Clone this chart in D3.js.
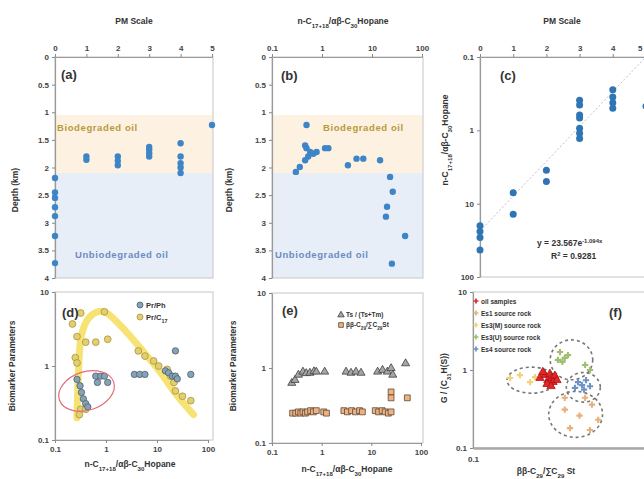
<!DOCTYPE html>
<html>
<head>
<meta charset="utf-8">
<script src="https://cdn.jsdelivr.net/npm/d3@7"></script>
<style>
body { margin: 0; background: #fff; }
text { font-family: "Liberation Sans", Arial, sans-serif; }
</style>
</head>
<body>
<script>
// ---- data ----
// (a) PM scale vs depth
var aPM    = [0, 0, 0, 0, 0, 0, 0, 1, 1, 2, 2, 2, 3, 3, 3, 3, 4, 4, 4, 4, 4, 5];
var aDepth = [2.19, 2.45, 2.55, 2.72, 2.88, 3.24, 3.73, 1.8, 1.86, 1.8, 1.88, 1.96, 1.63, 1.68, 1.74, 1.8, 1.56, 1.8, 1.92, 2.0, 2.1, 1.23];

// (b) n-alkane / hopane ratio vs depth
var bRatio = [0.49, 0.46, 0.49, 0.58, 0.67, 0.78, 1.15, 1.34, 0.53, 0.46, 0.36, 0.30, 3.3, 4.9, 6.7, 14.5, 23, 26, 20, 19, 46, 25];
var bDepth = [1.23, 1.6, 1.65, 1.72, 1.75, 1.72, 1.65, 1.65, 1.8, 1.87, 1.99, 2.08, 1.96, 1.84, 1.84, 1.87, 2.17, 2.44, 2.71, 2.89, 3.24, 3.74];

// (c) PM scale vs ratio, with exponential fit
var cPM    = [0, 0, 0, 0, 1, 1, 2, 2, 3, 3, 3, 3, 3, 3, 3, 4, 4, 4, 4, 5];
var cRatio = [20, 24, 29, 43, 7.1, 13.9, 3.5, 5.0, 0.39, 0.45, 0.62, 0.68, 0.94, 1.1, 1.29, 0.28, 0.35, 0.42, 0.5, 0.47];
var cFit = { a: 23.567, b: 1.094, r2: 0.9281 };

// (d) biomarker parameters
var dPrPhX  = [0.27, 0.31, 0.33, 0.36, 0.4, 0.44, 0.63, 0.79, 0.68, 0.93, 1.08, 3.6, 4.6, 5.8, 14.6, 16.9, 20, 23, 25, 23, 46];
var dPrPhY  = [0.66, 0.54, 0.44, 0.36, 0.31, 0.28, 0.73, 0.73, 0.6, 0.73, 0.6, 0.77, 0.77, 0.77, 0.86, 0.81, 0.73, 0.73, 0.67, 1.6, 0.77];
var dPrC17X = [0.22, 0.32, 0.93, 0.27, 0.4, 0.63, 1.08, 0.25, 0.27, 4.3, 5.8, 8.6, 10.8, 15.8, 18.5, 21.5, 23, 31.6, 46, 0.32, 0.4, 0.3];
var dPrC17Y = [3.7, 5.2, 5.4, 2.5, 2.1, 2.1, 2.3, 1.3, 1.1, 1.6, 1.36, 1.17, 1.0, 0.9, 0.73, 0.6, 0.46, 0.39, 0.34, 0.26, 0.26, 0.22];
var dTrendX = [0.27, 0.29, 0.33, 0.45, 0.76, 1.03, 2.5, 5.4, 11.4, 24, 52];
var dTrendY = [0.2, 0.9, 2.6, 4.4, 5.5, 5.2, 2.9, 1.56, 0.84, 0.41, 0.22];

// (e) biomarker parameters
var eTriX = [0.25, 0.29, 0.34, 0.42, 0.49, 0.58, 0.7, 0.78, 1.15, 3.1, 3.9, 4.9, 6.2, 13.4, 16.8, 21, 25, 27, 49];
var eTriY = [0.63, 0.69, 0.81, 0.89, 0.85, 0.86, 0.9, 0.89, 0.89, 0.89, 0.86, 0.89, 0.86, 0.89, 0.94, 0.89, 0.99, 0.81, 1.15];
var eSqX  = [0.26, 0.3, 0.34, 0.38, 0.42, 0.47, 0.52, 0.6, 0.68, 0.78, 1.1, 1.25, 2.8, 3.3, 4.0, 4.8, 5.8, 6.6, 12, 14, 16.5, 19, 22, 25, 25, 25, 53];
var eSqY  = [0.25, 0.25, 0.26, 0.25, 0.26, 0.25, 0.26, 0.27, 0.26, 0.27, 0.26, 0.25, 0.27, 0.26, 0.27, 0.26, 0.27, 0.26, 0.27, 0.26, 0.27, 0.26, 0.25, 0.26, 0.48, 0.4, 0.4];

// (f) oil-source correlation
var fGroups = ["oil samples", "Es1 source rock", "Es3(M) source rock", "Es3(U) source rock", "Es4 source rock"];
var fOilX = [0.239, 0.255, 0.265, 0.272, 0.28, 0.29, 0.283, 0.262, 0.298, 0.248, 0.276];
var fOilY = [0.79, 0.86, 0.74, 0.89, 0.79, 0.84, 0.70, 0.66, 0.74, 0.94, 0.62];
var fEs1X = [0.33, 0.43, 0.47, 0.51, 0.353, 0.33, 0.458, 0.40];
var fEs1Y = [0.44, 0.44, 0.36, 0.23, 0.18, 0.31, 0.17, 0.26];
var fEs3MX = [0.162, 0.184, 0.21, 0.224];
var fEs3MY = [0.79, 0.86, 0.70, 0.81];
var fEs3UX = [0.31, 0.33, 0.32, 0.344, 0.302, 0.43, 0.458];
var fEs3UY = [1.70, 1.43, 1.27, 1.55, 1.35, 1.16, 1.0];
var fEs4X = [0.392, 0.413, 0.435, 0.458, 0.377, 0.424];
var fEs4Y = [0.70, 0.64, 0.74, 0.62, 0.59, 0.56];
// dashed group envelopes: centre (x, y) and half-size in decades
var fEnvX  = [0.214, 0.36, 0.42, 0.38];
var fEnvY  = [0.74, 1.35, 0.60, 0.27];
var fEnvDx = [0.138, 0.12, 0.096, 0.152];
var fEnvDy = [0.167, 0.256, 0.19, 0.295];

var pmTicks = [0, 1, 2, 3, 4, 5];
var depthTicks = [0, 0.5, 1, 1.5, 2, 2.5, 3, 3.5, 4];
var logTicks = [0.1, 1, 10, 100];
var bioBand = [1.05, 2.1];
var unbioBand = [2.1, 4];

// ---- drawing ----
var width = 644, height = 479;
var svg = d3.select("body").append("svg")
	.attr("width", width)
	.attr("height", height);

var ratioLabel = [["n-C"], ["17+18", "sub"], ["/αβ-C"], ["30", "sub"], ["Hopane"]];
var numFmt = function(d) { return String(d); };

function rich(textSel, parts) {
	parts.forEach(function(p) {
		var t = textSel.append("tspan").text(p[0]);
		if (p[1] === "sub") t.attr("baseline-shift", "sub").style("font-size", "72%");
		if (p[1] === "sup") t.attr("baseline-shift", "super").style("font-size", "70%");
	});
	return textSel;
}

function styleAxis(g) {
	g.select(".domain").attr("stroke", "#9a9a9a").attr("stroke-width", 1.2);
	g.selectAll(".tick line").attr("stroke", "#888");
	g.selectAll(".tick text")
		.attr("fill", "#444")
		.style("font-size", "8px")
		.style("font-weight", "bold");
}

function box(x0, y0, x1, y1) {
	svg.append("rect")
		.attr("x", x0).attr("y", y0)
		.attr("width", x1 - x0).attr("height", y1 - y0)
		.attr("fill", "none")
		.attr("stroke", "#cfcfcf")
		.attr("stroke-width", 1.2);
}

function panelLabel(x, y, s) {
	svg.append("text").attr("x", x).attr("y", y)
		.attr("fill", "#333")
		.style("font-size", "13px").style("font-weight", "bold")
		.text(s);
}

function axisTitle(x, y, rotate) {
	var t = svg.append("text")
		.attr("text-anchor", "middle")
		.attr("fill", "#333")
		.style("font-size", "8.5px").style("font-weight", "bold");
	if (rotate) t.attr("transform", "translate(" + x + "," + y + ") rotate(-90)");
	else t.attr("x", x).attr("y", y);
	return t;
}

function bands(xs, ys, x0, x1) {
	svg.append("rect").attr("x", x0).attr("width", x1 - x0)
		.attr("y", ys(bioBand[0])).attr("height", ys(bioBand[1]) - ys(bioBand[0]))
		.attr("fill", "#fdf1e2");
	svg.append("rect").attr("x", x0).attr("width", x1 - x0)
		.attr("y", ys(unbioBand[0])).attr("height", ys(unbioBand[1]) - ys(unbioBand[0]))
		.attr("fill", "#e7eef8");
}

function bandText(x, y, s, color) {
	svg.append("text").attr("x", x).attr("y", y)
		.attr("fill", color)
		.style("font-size", "9.5px").style("font-weight", "bold")
		.style("letter-spacing", "0.6px")
		.text(s);
}

function dots(xs, ys, X, Y, r, fill, stroke) {
	svg.append("g").selectAll("circle")
		.data(X)
		.enter()
		.append("circle")
		.attr("cx", function(d) { return xs(d); })
		.attr("cy", function(d, i) { return ys(Y[i]); })
		.attr("r", r)
		.attr("fill", fill)
		.attr("stroke", stroke || "none")
		.attr("stroke-width", 0.8);
}

function symbols(xs, ys, X, Y, type, size, fill, stroke) {
	svg.append("g").selectAll("path")
		.data(X)
		.enter()
		.append("path")
		.attr("transform", function(d, i) { return "translate(" + xs(d) + "," + ys(Y[i]) + ")"; })
		.attr("d", d3.symbol().type(type).size(size))
		.attr("fill", fill)
		.attr("stroke", stroke)
		.attr("stroke-width", 0.8);
}

// ---------- (a) ----------
var xA = d3.scaleLinear().domain([0, 5]).range([55, 212]);
var yA = d3.scaleLinear().domain([0, 4]).range([57, 278]);
bands(xA, yA, 55, 213);
box(55, 57, 213, 278);
bandText(57, 131, "Biodegraded oil", "#b89a3c");
bandText(75, 258, "Unbiodegraded oil", "#6a8cc0");
svg.append("g").attr("transform", "translate(0,57)")
	.call(d3.axisTop(xA).tickValues(pmTicks).tickFormat(numFmt).tickSizeInner(3).tickSizeOuter(0))
	.call(styleAxis);
svg.append("g").attr("transform", "translate(55,0)")
	.call(d3.axisLeft(yA).tickValues(depthTicks).tickFormat(numFmt).tickSizeInner(3).tickSizeOuter(0))
	.call(styleAxis);
dots(xA, yA, aPM, aDepth, 3.2, "#3d85c6");
panelLabel(61, 79, "(a)");
axisTitle(134, 24).text("PM Scale");
axisTitle(18, 190, true).text("Depth (km)");

// ---------- (b) ----------
var xB = d3.scaleLog().domain([0.1, 100]).range([272, 422]);
var yB = d3.scaleLinear().domain([0, 4]).range([57, 278]);
bands(xB, yB, 272, 423);
box(272, 57, 423, 278);
bandText(323, 131, "Biodegraded oil", "#b89a3c");
bandText(275, 258, "Unbiodegraded oil", "#6a8cc0");
svg.append("g").attr("transform", "translate(0,57)")
	.call(d3.axisTop(xB).tickValues(logTicks).tickFormat(numFmt).tickSizeInner(3).tickSizeOuter(0))
	.call(styleAxis);
svg.append("g").attr("transform", "translate(272,0)")
	.call(d3.axisLeft(yB).tickValues(depthTicks).tickFormat(numFmt).tickSizeInner(3).tickSizeOuter(0))
	.call(styleAxis);
dots(xB, yB, bRatio, bDepth, 3.2, "#3d85c6");
panelLabel(281, 80, "(b)");
rich(axisTitle(343, 24), ratioLabel);
axisTitle(232, 190, true).text("Depth (km)");

// ---------- (c) ----------
var xC = d3.scaleLinear().domain([0, 5]).range([480, 646]);
var yC = d3.scaleLog().domain([0.1, 100]).range([57, 277]);
box(480, 57, 652, 277);
var fitLine = d3.line()
	.x(function(d) { return xC(d); })
	.y(function(d) { return yC(cFit.a * Math.exp(-cFit.b * d)); });
svg.append("path")
	.attr("d", fitLine(d3.range(0, 5.05, 0.05)))
	.attr("fill", "none")
	.attr("stroke", "#c9b8c8")
	.attr("stroke-width", 1)
	.attr("stroke-dasharray", "2,2");
var topC = svg.append("g").attr("transform", "translate(0,57)")
	.call(d3.axisTop(xC).tickValues(pmTicks).tickFormat(numFmt).tickSizeInner(3).tickSizeOuter(0))
	.call(styleAxis);
// last label sits on the window edge: keep it inside
topC.selectAll(".tick text").filter(function(d) { return d === 5; })
	.attr("text-anchor", "end").attr("dx", "-4");
svg.append("g").attr("transform", "translate(480,0)")
	.call(d3.axisLeft(yC).tickValues(logTicks).tickFormat(numFmt).tickSizeInner(3).tickSizeOuter(0))
	.call(styleAxis);
dots(xC, yC, cPM, cRatio, 3.5, "#2f75b5");
panelLabel(500, 80, "(c)");
axisTitle(562, 24).text("PM Scale");
rich(axisTitle(448, 140, true), ratioLabel);
var eq = svg.append("text").attr("x", 537).attr("y", 246)
	.attr("fill", "#333").style("font-size", "8.5px").style("font-weight", "bold");
rich(eq, [["y = " + cFit.a + "e"], ["-" + cFit.b + "x", "sup"]]);
var r2 = svg.append("text").attr("x", 551).attr("y", 259)
	.attr("fill", "#333").style("font-size", "8.5px").style("font-weight", "bold");
rich(r2, [["R"], ["2", "sup"], [" = " + cFit.r2]]);

// ---------- (d) ----------
var xD = d3.scaleLog().domain([0.1, 100]).range([55, 208]);
var yD = d3.scaleLog().domain([0.1, 10]).range([440, 292]);
box(55, 292, 213, 440);
var trend = d3.line()
	.x(function(d) { return xD(d); })
	.y(function(d, i) { return yD(dTrendY[i]); })
	.curve(d3.curveCatmullRom);
svg.append("path")
	.attr("d", trend(dTrendX))
	.attr("fill", "none")
	.attr("stroke", "#f6de5c")
	.attr("stroke-opacity", 0.85)
	.attr("stroke-width", 7)
	.attr("stroke-linecap", "round");
svg.append("g").attr("transform", "translate(0,440)")
	.call(d3.axisBottom(xD).tickValues(logTicks).tickFormat(numFmt).tickSizeInner(3).tickSizeOuter(0))
	.call(styleAxis);
svg.append("g").attr("transform", "translate(55,0)")
	.call(d3.axisLeft(yD).tickValues([0.1, 1, 10]).tickFormat(numFmt).tickSizeInner(3).tickSizeOuter(0))
	.call(styleAxis);
dots(xD, yD, dPrC17X, dPrC17Y, 3.4, "#e3cf6c", "#a8934a");
dots(xD, yD, dPrPhX, dPrPhY, 3.2, "#86a3b6", "#4d5d6b");
var ex = xD(0.415), ey = yD(0.46);
svg.append("ellipse")
	.attr("cx", ex).attr("cy", ey)
	.attr("rx", xD(0.415 * Math.pow(10, 0.56)) - ex)
	.attr("ry", yD(0.46) - yD(0.46 * Math.pow(10, 0.26)))
	.attr("transform", "rotate(-18," + ex + "," + ey + ")")
	.attr("fill", "none")
	.attr("stroke", "#e46c7a")
	.attr("stroke-width", 1.2);
// legend
dots(d3.scaleIdentity(), d3.scaleIdentity(), [140], [305], 3, "#86a3b6", "#4d5d6b");
dots(d3.scaleIdentity(), d3.scaleIdentity(), [140], [317], 3, "#e3cf6c", "#a8934a");
svg.append("text").attr("x", 146).attr("y", 308).attr("fill", "#333")
	.style("font-size", "7.5px").style("font-weight", "bold").text("Pr/Ph");
rich(svg.append("text").attr("x", 146).attr("y", 320).attr("fill", "#333")
	.style("font-size", "7.5px").style("font-weight", "bold"), [["Pr/C"], ["17", "sub"]]);
panelLabel(62, 317, "(d)");
rich(axisTitle(130, 467), ratioLabel);
axisTitle(15, 366, true).text("Biomarker Parameters");

// ---------- (e) ----------
var xE = d3.scaleLog().domain([0.1, 100]).range([272, 421]);
var yE = d3.scaleLog().domain([0.1, 10]).range([443, 293]);
box(272, 293, 423, 443);
svg.append("g").attr("transform", "translate(0,443)")
	.call(d3.axisBottom(xE).tickValues(logTicks).tickFormat(numFmt).tickSizeInner(3).tickSizeOuter(0))
	.call(styleAxis);
svg.append("g").attr("transform", "translate(272,0)")
	.call(d3.axisLeft(yE).tickValues([0.1, 1, 10]).tickFormat(numFmt).tickSizeInner(3).tickSizeOuter(0))
	.call(styleAxis);
symbols(xE, yE, eSqX, eSqY, d3.symbolSquare, 34, "#efb27e", "#5b4a3a");
symbols(xE, yE, eTriX, eTriY, d3.symbolTriangle, 28, "#a6a6a6", "#3e3e3e");
symbols(d3.scaleIdentity(), d3.scaleIdentity(), [341], [315], d3.symbolTriangle, 18, "#a6a6a6", "#3e3e3e");
symbols(d3.scaleIdentity(), d3.scaleIdentity(), [341], [325], d3.symbolSquare, 22, "#efb27e", "#5b4a3a");
rich(svg.append("text").attr("x", 346).attr("y", 317).attr("fill", "#333")
	.style("font-size", "6.5px").style("font-weight", "bold"), [["Ts / (Ts+Tm)"]]);
rich(svg.append("text").attr("x", 346).attr("y", 327).attr("fill", "#333")
	.style("font-size", "6.5px").style("font-weight", "bold"), [["ββ-C"], ["29", "sub"], ["/∑C"], ["29", "sub"], ["St"]]);
panelLabel(282, 315, "(e)");
rich(axisTitle(347, 472), ratioLabel);
axisTitle(236, 366, true).text("Biomarker Parameters");

// ---------- (f) ----------
var xF = d3.scaleLog().domain([0.1, 1]).range([473, 650]);
var yF = d3.scaleLog().domain([0.1, 10]).range([448, 292]);
box(473, 292, 652, 448);
svg.append("g").attr("transform", "translate(0,448)")
	.call(d3.axisBottom(xF).tickValues([0.1]).tickFormat(numFmt).tickSizeInner(0).tickSizeOuter(0).tickPadding(8))
	.call(styleAxis)
	.select(".domain").attr("stroke-width", 2.5).attr("stroke", "#a8a8a8");
svg.append("g").attr("transform", "translate(473,0)")
	.call(d3.axisLeft(yF).tickValues([0.1, 1, 10]).tickFormat(numFmt).tickSizeInner(3).tickSizeOuter(0))
	.call(styleAxis);
svg.append("g").selectAll("ellipse")
	.data(fEnvX)
	.enter()
	.append("ellipse")
	.attr("cx", function(d) { return xF(d); })
	.attr("cy", function(d, i) { return yF(fEnvY[i]); })
	.attr("rx", function(d, i) { return xF(d * Math.pow(10, fEnvDx[i])) - xF(d); })
	.attr("ry", function(d, i) { return yF(fEnvY[i]) - yF(fEnvY[i] * Math.pow(10, fEnvDy[i])); })
	.attr("fill", "none")
	.attr("stroke", "#777")
	.attr("stroke-width", 1.6)
	.attr("stroke-dasharray", "3,3");
var fColors = ["#e0282a", "#e8b07a", "#f2d27a", "#9cc070", "#6f92c8"];
symbols(xF, yF, fEs1X, fEs1Y, d3.symbolCross, 22, fColors[1], "none");
symbols(xF, yF, fEs3MX, fEs3MY, d3.symbolCross, 22, fColors[2], "none");
symbols(xF, yF, fEs3UX, fEs3UY, d3.symbolCross, 22, fColors[3], "none");
symbols(xF, yF, fEs4X, fEs4Y, d3.symbolCross, 22, fColors[4], "none");
symbols(xF, yF, fOilX, fOilY, d3.symbolTriangle, 30, fColors[0], "#b01010");
var legF = svg.append("g").selectAll("g")
	.data(fGroups)
	.enter()
	.append("g")
	.attr("transform", function(d, i) { return "translate(476," + (301 + i * 12) + ")"; });
legF.append("path")
	.attr("d", d3.symbol().type(d3.symbolCross).size(14))
	.attr("fill", function(d, i) { return fColors[i]; });
legF.append("text")
	.attr("x", 5).attr("y", 2.5)
	.attr("fill", "#333")
	.style("font-size", "6.5px").style("font-weight", "bold")
	.text(function(d) { return d; });
panelLabel(609, 317, "(f)");
rich(axisTitle(546, 474), [["ββ-C"], ["29", "sub"], ["/∑C"], ["29", "sub"], [" St"]]);
rich(axisTitle(447, 378, true), [["G / (C"], ["31", "sub"], ["H(S))"]]);
</script>
</body>
</html>
